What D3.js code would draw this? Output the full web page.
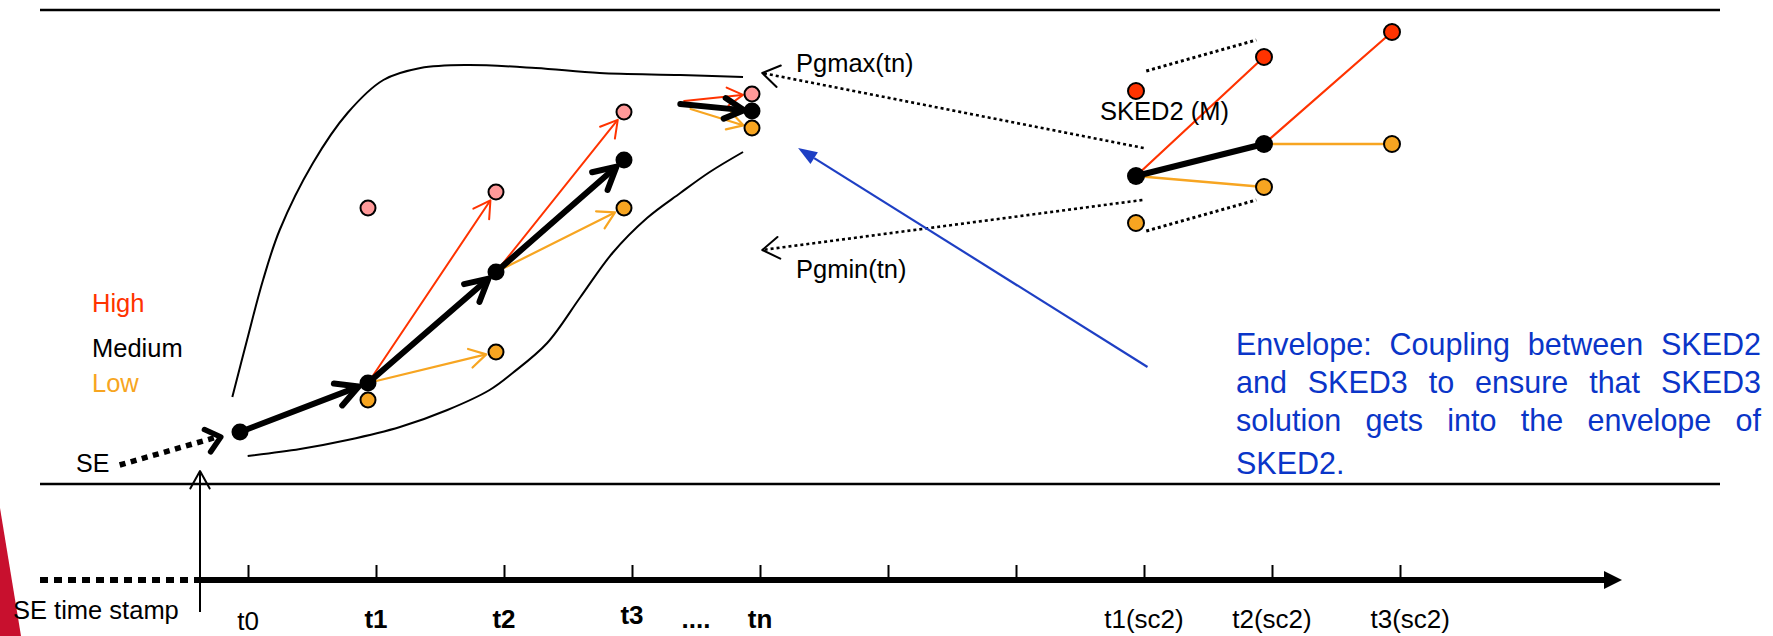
<!DOCTYPE html>
<html><head><meta charset="utf-8">
<script src="https://cdn.jsdelivr.net/npm/d3@7"></script>
<style>
html,body{margin:0;padding:0;background:#fff;}
svg{display:block;}
text{font-family:"Liberation Sans",Arial,Helvetica,sans-serif;}
</style>
</head><body>
<svg id="c" width="1773" height="636"></svg>
<script>
// ---------------- DATA ----------------
// time steps of SKED3 (t0..tn) and SKED2 steps
const sked3Steps = [0, 1, 2, 3, 4];
const mediumValues = [13.6, 23.4, 45.6, 68.0, 77.8];
const highValues   = [null, 58.4, 61.6, 77.6, 81.2];
const lowValues    = [null, 20.0, 29.6, 58.4, 74.4];

const sked2Steps = [7, 8, 9];
const sked2Medium = [64.8, 71.2, null];
const sked2High   = [81.8, 88.6, 93.6];
const sked2Low    = [55.4, 62.6, 71.2];

// envelope curves (step, value)
const envUpperX = [-0.06, 0.055, 0.18, 0.31, 0.57, 0.84, 1.12, 1.41, 1.77, 2.31, 2.81, 3.44, 3.93];
const envUpperY = [20.6, 32.0, 44.0, 54.0, 67.4, 77.4, 84.0, 86.4, 87.0, 86.4, 85.4, 85.0, 84.6];
const envLowerX = [0.06, 0.47, 0.84, 1.25, 1.62, 1.95, 2.13, 2.40, 2.66, 2.91, 3.18, 3.44, 3.67, 3.93];
const envLowerY = [8.8, 10.2, 12.0, 14.6, 18.0, 22.0, 25.4, 31.4, 40.6, 49.4, 56.4, 61.4, 65.6, 69.6];

// incoming arrows into tn (start step, start value) for high / medium / low
const tnArrowStartX = [3.47, 3.44, 3.52];
const tnArrowStartY = [79.8, 79.2, 78.2];

// SE arrow (step,value) start -> end
const seArrowX = [-0.94, -0.15];
const seArrowY = [7.0, 12.6];

// Pgmax / Pgmin dotted links (from SKED2 to tn)
const pgmaxX = [7.06, 4.08], pgmaxY = [70.4, 85.4];
const pgminX = [7.05, 4.08], pgminY = [60.0, 50.0];
// SKED2 envelope dotted segments
const sk2UpperX = [7.08, 7.94], sk2UpperY = [85.8, 92.0];
const sk2LowerX = [7.08, 7.94], sk2LowerY = [53.8, 60.0];
// blue coupling arrow
const blueX = [7.09, 4.36], blueY = [26.6, 70.4];

// time axis
const tickSteps = [0, 1, 2, 3, 4, 5, 6, 7, 8, 9];
const tickLabels = ["t0", "t1", "t2", "t3", "....", "tn", "t1(sc2)", "t2(sc2)", "t3(sc2)"];
const tickLabelAt = [0, 1, 2, 3, 3.5, 4, 7, 8, 9.08];
const tickLabelBold = [false, true, true, true, true, true, false, false, false];

const legendLabels = ["High", "Medium", "Low"];
const envelopeLines = [
  "Envelope: Coupling between SKED2",
  "and SKED3 to ensure that SKED3",
  "solution gets into the envelope of",
  "SKED2."
];

// ---------------- STYLE / LAYOUT ----------------
const RED = "#FF3300", PINK = "#FF9999", ORANGE = "#F7A521", BLUE_T = "#0A35C8", BLUE_L = "#1E3FC4";
const svg = d3.select("#c");

const xP = d3.scaleLinear().domain([0, 9]).range([240, 1392]);
const yP = d3.scaleLinear().domain([0, 100]).range([500, 0]);
const xT = d3.scaleLinear().domain([0, 9]).range([248, 1400]);
const axisY = 580;

// crimson corner
svg.append("path").attr("d", "M0,508 L21,636 L0,636 Z").attr("fill", "#C8102E");

// frame lines
svg.append("line").attr("x1", 40).attr("x2", 1720).attr("y1", 10).attr("y2", 10)
  .attr("stroke", "#000").attr("stroke-width", 2.5);
svg.append("line").attr("x1", 40).attr("x2", 1720).attr("y1", 484).attr("y2", 484)
  .attr("stroke", "#000").attr("stroke-width", 2.5);

// helpers
function chevron(g, x1, y1, x2, y2, len, ang, color, w) {
  const a = Math.atan2(y1 - y2, x1 - x2);
  const r = ang * Math.PI / 180;
  const p1 = [x2 + len * Math.cos(a + r), y2 + len * Math.sin(a + r)];
  const p2 = [x2 + len * Math.cos(a - r), y2 + len * Math.sin(a - r)];
  g.append("path").attr("d", `M${p1[0]},${p1[1]} L${x2},${y2} L${p2[0]},${p2[1]}`)
    .attr("fill", "none").attr("stroke", color).attr("stroke-width", w)
    .attr("stroke-linecap", "round").attr("stroke-linejoin", "round");
}
function shorten(x1, y1, x2, y2, d) {
  const L = Math.hypot(x2 - x1, y2 - y1);
  return [x2 - (x2 - x1) / L * d, y2 - (y2 - y1) / L * d];
}
function arrow(g, sx, sy, ex, ey, opt) {
  const x1 = xP(sx), y1 = yP(sy);
  let [x2, y2] = shorten(x1, y1, xP(ex), yP(ey), opt.gap);
  const [lx, ly] = shorten(x1, y1, x2, y2, opt.w * 0.6);
  g.append("line").attr("x1", x1).attr("y1", y1).attr("x2", lx).attr("y2", ly)
    .attr("stroke", opt.color).attr("stroke-width", opt.w).attr("stroke-linecap", "round");
  chevron(g, x1, y1, x2, y2, opt.len, opt.ang, opt.color, opt.w);
}

// envelope curves
const line = d3.line().x(d => xP(d[0])).y(d => yP(d[1])).curve(d3.curveCatmullRom.alpha(0.5));
svg.append("path").attr("d", line(envUpperX.map((x, i) => [x, envUpperY[i]])))
  .attr("fill", "none").attr("stroke", "#000").attr("stroke-width", 2);
svg.append("path").attr("d", line(envLowerX.map((x, i) => [x, envLowerY[i]])))
  .attr("fill", "none").attr("stroke", "#000").attr("stroke-width", 2);

// dotted links
function dotted(xs, ys, w, dash) {
  svg.append("line").attr("x1", xP(xs[0])).attr("y1", yP(ys[0]))
    .attr("x2", xP(xs[1])).attr("y2", yP(ys[1]))
    .attr("stroke", "#000").attr("stroke-width", w).attr("stroke-dasharray", dash);
}
dotted(pgmaxX, pgmaxY, 2.6, "3,3");
dotted(pgminX, pgminY, 2.6, "3,3");
dotted(sk2UpperX, sk2UpperY, 3, "3,3");
dotted(sk2LowerX, sk2LowerY, 3, "3,3");
chevron(svg, xP(pgmaxX[0]), yP(pgmaxY[0]), xP(pgmaxX[1]), yP(pgmaxY[1]), 20, 33, "#000", 2);
chevron(svg, xP(pgminX[0]), yP(pgminY[0]), xP(pgminX[1]), yP(pgminY[1]), 20, 33, "#000", 2);

// SE dotted arrow
dotted([seArrowX[0], seArrowX[1] - 0.03], seArrowY, 5.5, "6,5.5");
chevron(svg, xP(seArrowX[0]), yP(seArrowY[0]), xP(seArrowX[1]), yP(seArrowY[1]), 18, 40, "#000", 5.5);

// SKED3 arrows
const gA = svg.append("g");
for (let i = 1; i < 3; i++) {
  arrow(gA, sked3Steps[i], mediumValues[i], sked3Steps[i + 1], highValues[i + 1], {gap: 10, w: 2, color: RED, len: 19, ang: 30});
  arrow(gA, sked3Steps[i], mediumValues[i], sked3Steps[i + 1], lowValues[i + 1], {gap: 10, w: 2.2, color: ORANGE, len: 19, ang: 30});
}
for (let i = 0; i < 3; i++) {
  arrow(gA, sked3Steps[i], mediumValues[i], sked3Steps[i + 1], mediumValues[i + 1], {gap: 10, w: 6, color: "#000", len: 25, ang: 28});
}
// arrows into tn
arrow(gA, tnArrowStartX[0], tnArrowStartY[0], 4, highValues[4], {gap: 9, w: 2, color: RED, len: 18, ang: 30});
arrow(gA, tnArrowStartX[2], tnArrowStartY[2], 4, lowValues[4], {gap: 9, w: 2.2, color: ORANGE, len: 18, ang: 30});
arrow(gA, tnArrowStartX[1], tnArrowStartY[1], 4, mediumValues[4], {gap: 8, w: 6, color: "#000", len: 22, ang: 28});

// SKED2 lines
const gS = svg.append("g");
function seg(x1, v1, x2, v2, color, w) {
  gS.append("line").attr("x1", xP(x1)).attr("y1", yP(v1)).attr("x2", xP(x2)).attr("y2", yP(v2))
    .attr("stroke", color).attr("stroke-width", w).attr("stroke-linecap", "round");
}
for (let i = 0; i < 2; i++) {
  seg(sked2Steps[i], sked2Medium[i], sked2Steps[i + 1], sked2High[i + 1], RED, 2.2);
  seg(sked2Steps[i], sked2Medium[i], sked2Steps[i + 1], sked2Low[i + 1], ORANGE, 2.5);
}
seg(sked2Steps[0], sked2Medium[0], sked2Steps[1], sked2Medium[1], "#000", 6);

// dots
function dots(steps, vals, fill, r, stroke) {
  const d = steps.map((s, i) => [s, vals[i]]).filter(p => p[1] != null);
  svg.append("g").selectAll("circle").data(d).join("circle")
    .attr("cx", p => xP(p[0])).attr("cy", p => yP(p[1])).attr("r", r)
    .attr("fill", fill).attr("stroke", stroke ? "#000" : "none").attr("stroke-width", 2);
}
dots(sked3Steps, highValues, PINK, 7.5, true);
dots(sked3Steps, lowValues, ORANGE, 7.5, true);
dots(sked3Steps, mediumValues, "#000", 8.5, false);
dots(sked2Steps, sked2High, RED, 8, true);
dots(sked2Steps, sked2Low, ORANGE, 8, true);
dots(sked2Steps, sked2Medium, "#000", 9, false);

// blue arrow
{
  const x1 = xP(blueX[0]), y1 = yP(blueY[0]), x2 = xP(blueX[1]), y2 = yP(blueY[1]);
  const a = Math.atan2(y1 - y2, x1 - x2);
  const hl = 19, hw = 7;
  const bx = x2 + hl * Math.cos(a), by = y2 + hl * Math.sin(a);
  svg.append("line").attr("x1", x1).attr("y1", y1).attr("x2", bx).attr("y2", by)
    .attr("stroke", BLUE_L).attr("stroke-width", 2.2);
  const px = -Math.sin(a), py = Math.cos(a);
  svg.append("path").attr("d", `M${x2},${y2} L${bx + px * hw},${by + py * hw} L${bx - px * hw},${by - py * hw} Z`)
    .attr("fill", BLUE_L);
}

// time axis
svg.append("line").attr("x1", 40).attr("x2", 198).attr("y1", axisY).attr("y2", axisY)
  .attr("stroke", "#000").attr("stroke-width", 6).attr("stroke-dasharray", "8,6");
svg.append("line").attr("x1", 198).attr("x2", 1608).attr("y1", axisY).attr("y2", axisY)
  .attr("stroke", "#000").attr("stroke-width", 6);
svg.append("path").attr("d", `M1604,${axisY - 9} L1622,${axisY} L1604,${axisY + 9} Z`).attr("fill", "#000");
const axis = d3.axisTop(xT).tickValues(tickSteps).tickSize(15).tickFormat("");
const gAx = svg.append("g").attr("transform", `translate(0,${axisY})`).call(axis);
gAx.select(".domain").remove();
gAx.selectAll(".tick line").attr("stroke", "#000").attr("stroke-width", 2);

svg.append("g").selectAll("text").data(tickLabels).join("text")
  .attr("x", (d, i) => xT(tickLabelAt[i]))
  .attr("y", (d, i) => i === 3 ? 624 : (i === 0 ? 630 : 628))
  .attr("text-anchor", "middle").attr("font-size", 26)
  .attr("font-weight", (d, i) => tickLabelBold[i] ? "bold" : "normal")
  .attr("fill", "#000").text(d => d);

// SE time stamp marker
svg.append("line").attr("x1", 200).attr("x2", 200).attr("y1", 612).attr("y2", 471)
  .attr("stroke", "#000").attr("stroke-width", 2);
chevron(svg, 200, 612, 200, 471, 20, 29, "#000", 2);

// texts
function txt(x, y, s, size, color, opts = {}) {
  return svg.append("text").attr("x", x).attr("y", y).attr("font-size", size)
    .attr("fill", color).attr("font-weight", opts.bold ? "bold" : "normal").text(s);
}
txt(13, 619, "SE time stamp", 25.5, "#000");
txt(76, 472, "SE", 25, "#000");
const legendColors = [RED, "#000", ORANGE];
const legendY = [312, 357, 392];
legendLabels.forEach((l, i) => txt(92, legendY[i], l, 25.5, legendColors[i]));
txt(796, 72, "Pgmax(tn)", 25.5, "#000");
txt(796, 278, "Pgmin(tn)", 25.5, "#000");
txt(1100, 120, "SKED2 (M)", 25.5, "#000");

// justified envelope text
const envX0 = 1236, envX1 = 1761, envY = [355, 393, 431, 474], envSize = 30.5;
envelopeLines.forEach((ln, li) => {
  const words = ln.split(" ");
  const g = svg.append("g");
  const nodes = words.map(w => g.append("text").attr("y", envY[li]).attr("font-size", envSize)
    .attr("fill", BLUE_T).text(w));
  const widths = nodes.map(n => n.node().getComputedTextLength());
  const total = widths.reduce((a, b) => a + b, 0);
  const last = li === envelopeLines.length - 1;
  const gap = (!last && words.length > 1) ? (envX1 - envX0 - total) / (words.length - 1) : envSize * 0.278;
  let x = envX0;
  nodes.forEach((n, i) => { n.attr("x", x); x += widths[i] + gap; });
});
</script>
</body></html>
